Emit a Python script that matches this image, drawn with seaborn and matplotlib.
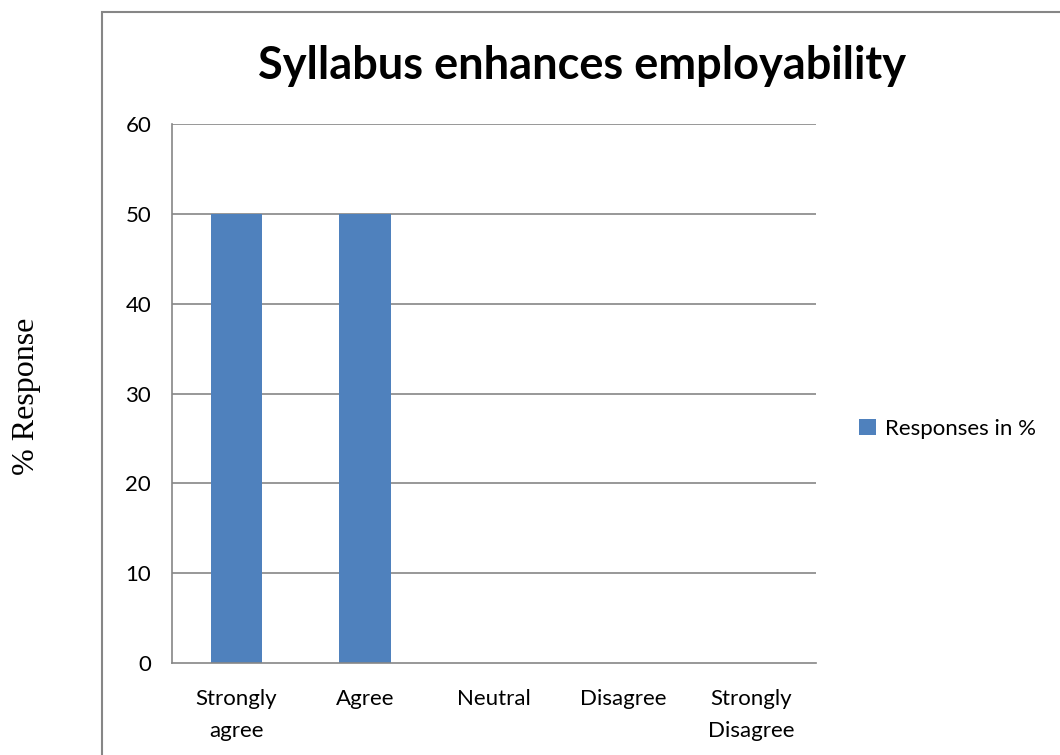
import matplotlib
matplotlib.use("Agg")
import matplotlib.pyplot as plt
import seaborn as sns
import pandas as pd
from matplotlib.patches import Rectangle

# data
categories = ["Strongly\nagree", "Agree", "Neutral", "Disagree", "Strongly\nDisagree"]
responses = [50, 50, 0, 0, 0]
series_name = "Responses in %"
y_ticks = [0, 10, 20, 30, 40, 50, 60]

df = pd.DataFrame({"Category": categories, "Value": responses})

sns.set_style("white")
plt.rcParams["font.family"] = ["Lato", "DejaVu Sans"]
plt.rcParams["text.color"] = "black"
plt.rcParams["xtick.color"] = "black"
plt.rcParams["ytick.color"] = "black"

grey = "#868686"
bar_color = "#4F81BD"

fig = plt.figure(figsize=(10.6, 7.55), dpi=100)
ax = fig.add_axes([172 / 1060, 1 - 663 / 755, (816 - 172) / 1060, (663 - 124) / 755])

sns.barplot(data=df, x="Category", y="Value", color=bar_color, width=0.4,
            saturation=1, label=series_name, linewidth=0, ax=ax)

ax.set_ylim(0, 60)
ax.set_xlim(-0.5, len(categories) - 0.5)
ax.set_yticks(y_ticks)
ax.set_yticklabels([str(t) for t in y_ticks], fontsize=16)
ax.tick_params(axis="y", direction="out", length=7, color=grey, width=1.2, pad=8,
               labelcolor="black")
ax.set_xticks(range(len(categories)))
ax.set_xticklabels(categories, fontsize=16, linespacing=1.75)
ax.tick_params(axis="x", which="major", length=0, pad=19, labelcolor="black")
ax.set_xticks([i - 0.5 for i in range(len(categories) + 1)], minor=True)
ax.tick_params(axis="x", which="minor", direction="out", length=7, color=grey, width=1.2)
ax.set_xlabel("")
ax.set_ylabel("")

for t in y_ticks[1:]:
    ax.axhline(t, color=grey, lw=1.2, zorder=0)
ax.set_axisbelow(True)

for s in ["top", "right"]:
    ax.spines[s].set_visible(False)
for s in ["left", "bottom"]:
    ax.spines[s].set_color(grey)
    ax.spines[s].set_linewidth(1.2)

fig.suptitle("Syllabus enhances employability", x=582 / 1060, y=1 - 66 / 755,
             va="center", fontsize=32.5, fontweight="bold", color="black")

fig.text(27 / 1060, 1 - 396 / 755, "% Response", rotation=90, va="center", ha="center",
         fontsize=23, family=["Liberation Serif", "DejaVu Serif"])

ax.legend(loc="center left", bbox_to_anchor=(839 / 1060, 1 - 429 / 755),
          bbox_transform=fig.transFigure, frameon=False, fontsize=16,
          handlelength=0.75, handleheight=0.75, handletextpad=0.4)

# outer chart border
fig.patches.append(Rectangle((102 / 1060, -0.01), 1.0, 1 - 12 / 755 + 0.01,
                             transform=fig.transFigure, fill=False,
                             edgecolor=grey, lw=1.5))

fig.savefig("out.png", dpi=100)
